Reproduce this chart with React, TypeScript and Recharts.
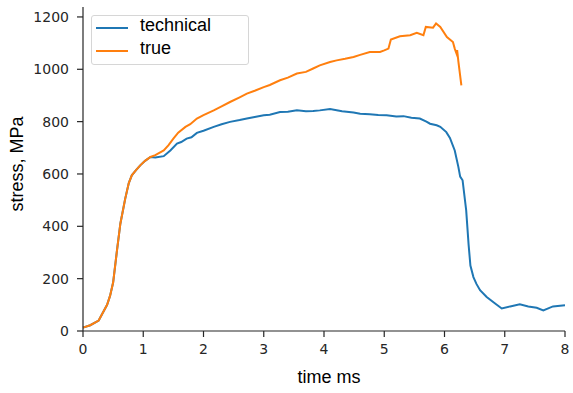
import { LineChart, Line, XAxis, YAxis } from 'recharts';

// shared loading ramp (both curves coincide here)
const rampTime = [0, 0.12, 0.26, 0.4, 0.45, 0.5, 0.56, 0.62, 0.7, 0.76, 0.81, 0.88, 0.95, 1.03, 1.12];
const rampStress = [13, 22, 40, 100, 135, 185, 300, 410, 505, 565, 595, 615, 633, 650, 665];

const technicalTime = [
  1.2, 1.34, 1.45, 1.56, 1.63, 1.72, 1.8, 1.89, 2.0, 2.17, 2.3, 2.44, 2.6, 2.72, 2.85, 3.0, 3.1, 3.27, 3.4, 3.55,
  3.7, 3.82, 3.93, 4.1, 4.3, 4.49, 4.6, 4.76, 4.9, 5.04, 5.2, 5.32, 5.45, 5.59, 5.7, 5.76, 5.87, 5.93, 6.03, 6.09,
  6.17, 6.23, 6.26, 6.3, 6.36, 6.4, 6.43, 6.48, 6.53, 6.59, 6.7, 6.84, 6.95, 7.09, 7.25, 7.39, 7.53, 7.64, 7.8, 8.0,
];
const technicalStress = [
  663, 668, 690, 716, 722, 735, 740, 757, 765, 780, 790, 799, 806, 812, 818, 824, 826, 837, 838, 843,
  840, 841, 843, 848, 840, 835, 830, 828, 825, 824, 820, 821, 815, 812, 800, 792, 786, 780, 760, 738,
  690, 627, 590, 576, 461, 330, 250, 206, 180, 156, 130, 105, 86, 94, 102, 94, 89, 79, 94, 98,
];

const trueTime = [
  1.2, 1.34, 1.42, 1.5, 1.58, 1.7, 1.78, 1.89, 2.0, 2.17, 2.3, 2.44, 2.6, 2.72, 2.85, 3.0, 3.1, 3.27, 3.4, 3.55,
  3.7, 3.82, 3.93, 4.1, 4.21, 4.35, 4.49, 4.6, 4.76, 4.93, 5.0, 5.07, 5.11, 5.26, 5.43, 5.54, 5.65, 5.69, 5.81, 5.86,
  5.93, 6.04, 6.14, 6.17, 6.2, 6.21, 6.23, 6.28,
];
const trueStress = [
  672, 690, 710, 735, 758, 780, 790, 812, 825, 843, 858, 875, 893, 907, 918, 932, 940, 958, 968, 984,
  990, 1003, 1015, 1028, 1034, 1040, 1047, 1055, 1066, 1066, 1072, 1079, 1114, 1126, 1130, 1139, 1130, 1162, 1159, 1175,
  1162, 1123, 1104, 1079, 1060, 1073, 1030, 939,
];

const xTicks = [0, 1, 2, 3, 4, 5, 6, 7, 8];
const yTicks = [0, 200, 400, 600, 800, 1000, 1200];

const BLUE = '#1f77b4';
const ORANGE = '#ff7f0e';
const AXIS = '#262626';

const toPoints = (t: number[], s: number[]) => t.map((time, i) => ({ time, stress: s[i] }));
const ramp = toPoints(rampTime, rampStress);
const technicalData = [...ramp, ...toPoints(technicalTime, technicalStress)];
const trueData = [...ramp, ...toPoints(trueTime, trueStress)];

const tickStyle = { fill: AXIS, fontSize: 14, fontFamily: 'DejaVu Sans' };
const labelFont = 'Liberation Sans, Arial, sans-serif';

export default function App() {
  return (
    <div style={{ position: 'absolute', left: 0, top: 0, width: 573, height: 393, background: '#fff' }}>
      <LineChart width={573} height={393} margin={{ top: 7, right: 8, left: 0, bottom: 0 }}>
        <XAxis
          dataKey="time"
          type="number"
          domain={[0, 8]}
          ticks={xTicks}
          allowDuplicatedCategory={false}
          height={62}
          stroke={AXIS}
          strokeWidth={1.2}
          tickSize={6}
          tickMargin={7}
          tick={tickStyle}
          label={{
            content: () => (
              <text x={329} y={383} textAnchor="middle" fill="#000" fontSize={18} fontFamily={labelFont}>
                time ms
              </text>
            ),
          }}
        />
        <YAxis
          dataKey="stress"
          type="number"
          domain={[0, 1238]}
          ticks={yTicks}
          width={83}
          stroke={AXIS}
          strokeWidth={1.2}
          tickSize={6}
          tickMargin={8}
          tick={tickStyle}
          label={{
            content: () => (
              <text x={-164} y={23} transform="rotate(-90)" textAnchor="middle" fill="#000" fontSize={18} fontFamily={labelFont}>
                stress, MPa
              </text>
            ),
          }}
        />
        <Line data={technicalData} dataKey="stress" type="linear" stroke={BLUE} strokeWidth={2} dot={false} isAnimationActive={false} />
        <Line data={trueData} dataKey="stress" type="linear" stroke={ORANGE} strokeWidth={2} dot={false} isAnimationActive={false} />
      </LineChart>

      <div
        style={{
          position: 'absolute',
          left: 91,
          top: 15,
          width: 158,
          height: 50,
          boxSizing: 'border-box',
          border: '1px solid #d6d6d6',
          borderRadius: 3,
          background: 'rgba(255,255,255,0.8)',
          fontFamily: labelFont,
          fontSize: 18,
          color: '#000',
        }}
      >
        {[
          { name: 'technical', color: BLUE },
          { name: 'true', color: ORANGE },
        ].map((item) => (
          <div key={item.name} style={{ height: 23, display: 'flex', alignItems: 'center' }}>
            <div style={{ marginLeft: 4, width: 32, height: 2, background: item.color }} />
            <span style={{ marginLeft: 12, lineHeight: '23px', position: 'relative', top: -2 }}>{item.name}</span>
          </div>
        ))}
      </div>
    </div>
  );
}
